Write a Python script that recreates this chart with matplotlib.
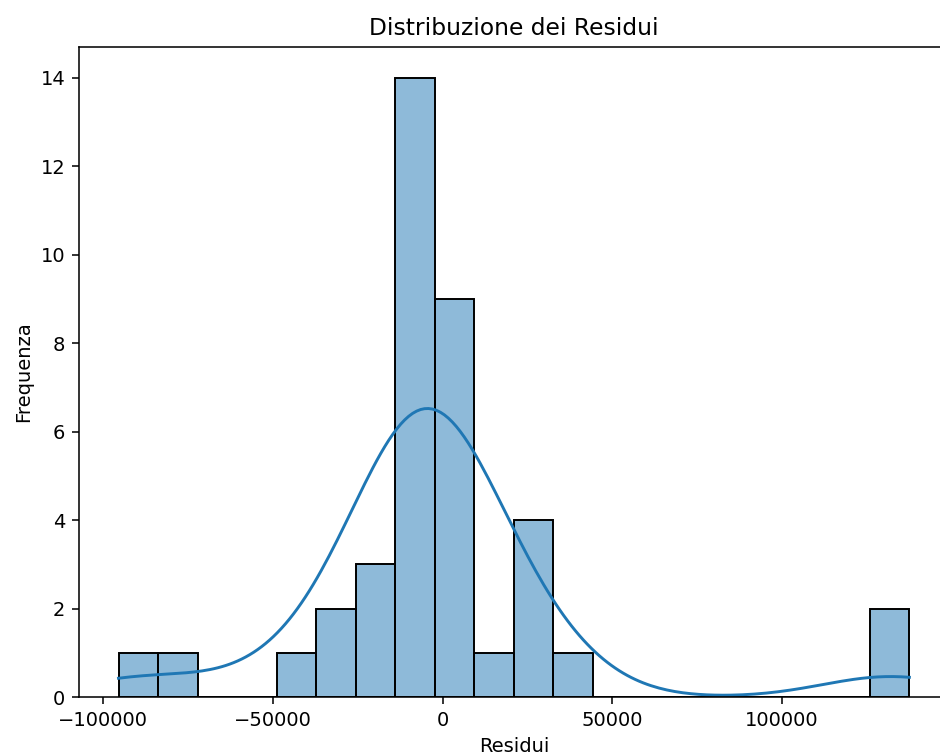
import matplotlib
matplotlib.use("Agg")
import matplotlib.pyplot as plt
import seaborn as sns
import numpy as np

# Residui del modello (unità monetarie)
residui = [
    -95500, -79000,
    -48000,
    -37000, -35000,
    -24000, -22000, -19000,
    -13800, -13000, -12000, -11000, -10000, -9000, -8500,
    -8000, -7000, -6000, -5000, -4000, -3500, -2500,
    -2200, -1800, -1200, -500, 500, 1500, 2500, 4000, 6000,
    10000,
    21500, 22000, 23500, 26000,
    34000,
    126500, 137500,
]

fig = plt.figure(figsize=(9.4 / 1.4, 7.56 / 1.4), dpi=140)
ax = fig.add_axes([0.084, 0.078, 0.9255, 0.8598])

sns.histplot(np.array(residui), bins=20, kde=True, ax=ax)

ax.set_title("Distribuzione dei Residui")
ax.set_xlabel("Residui")
ax.set_ylabel("Frequenza")

fig.savefig("out.png", dpi=140)
